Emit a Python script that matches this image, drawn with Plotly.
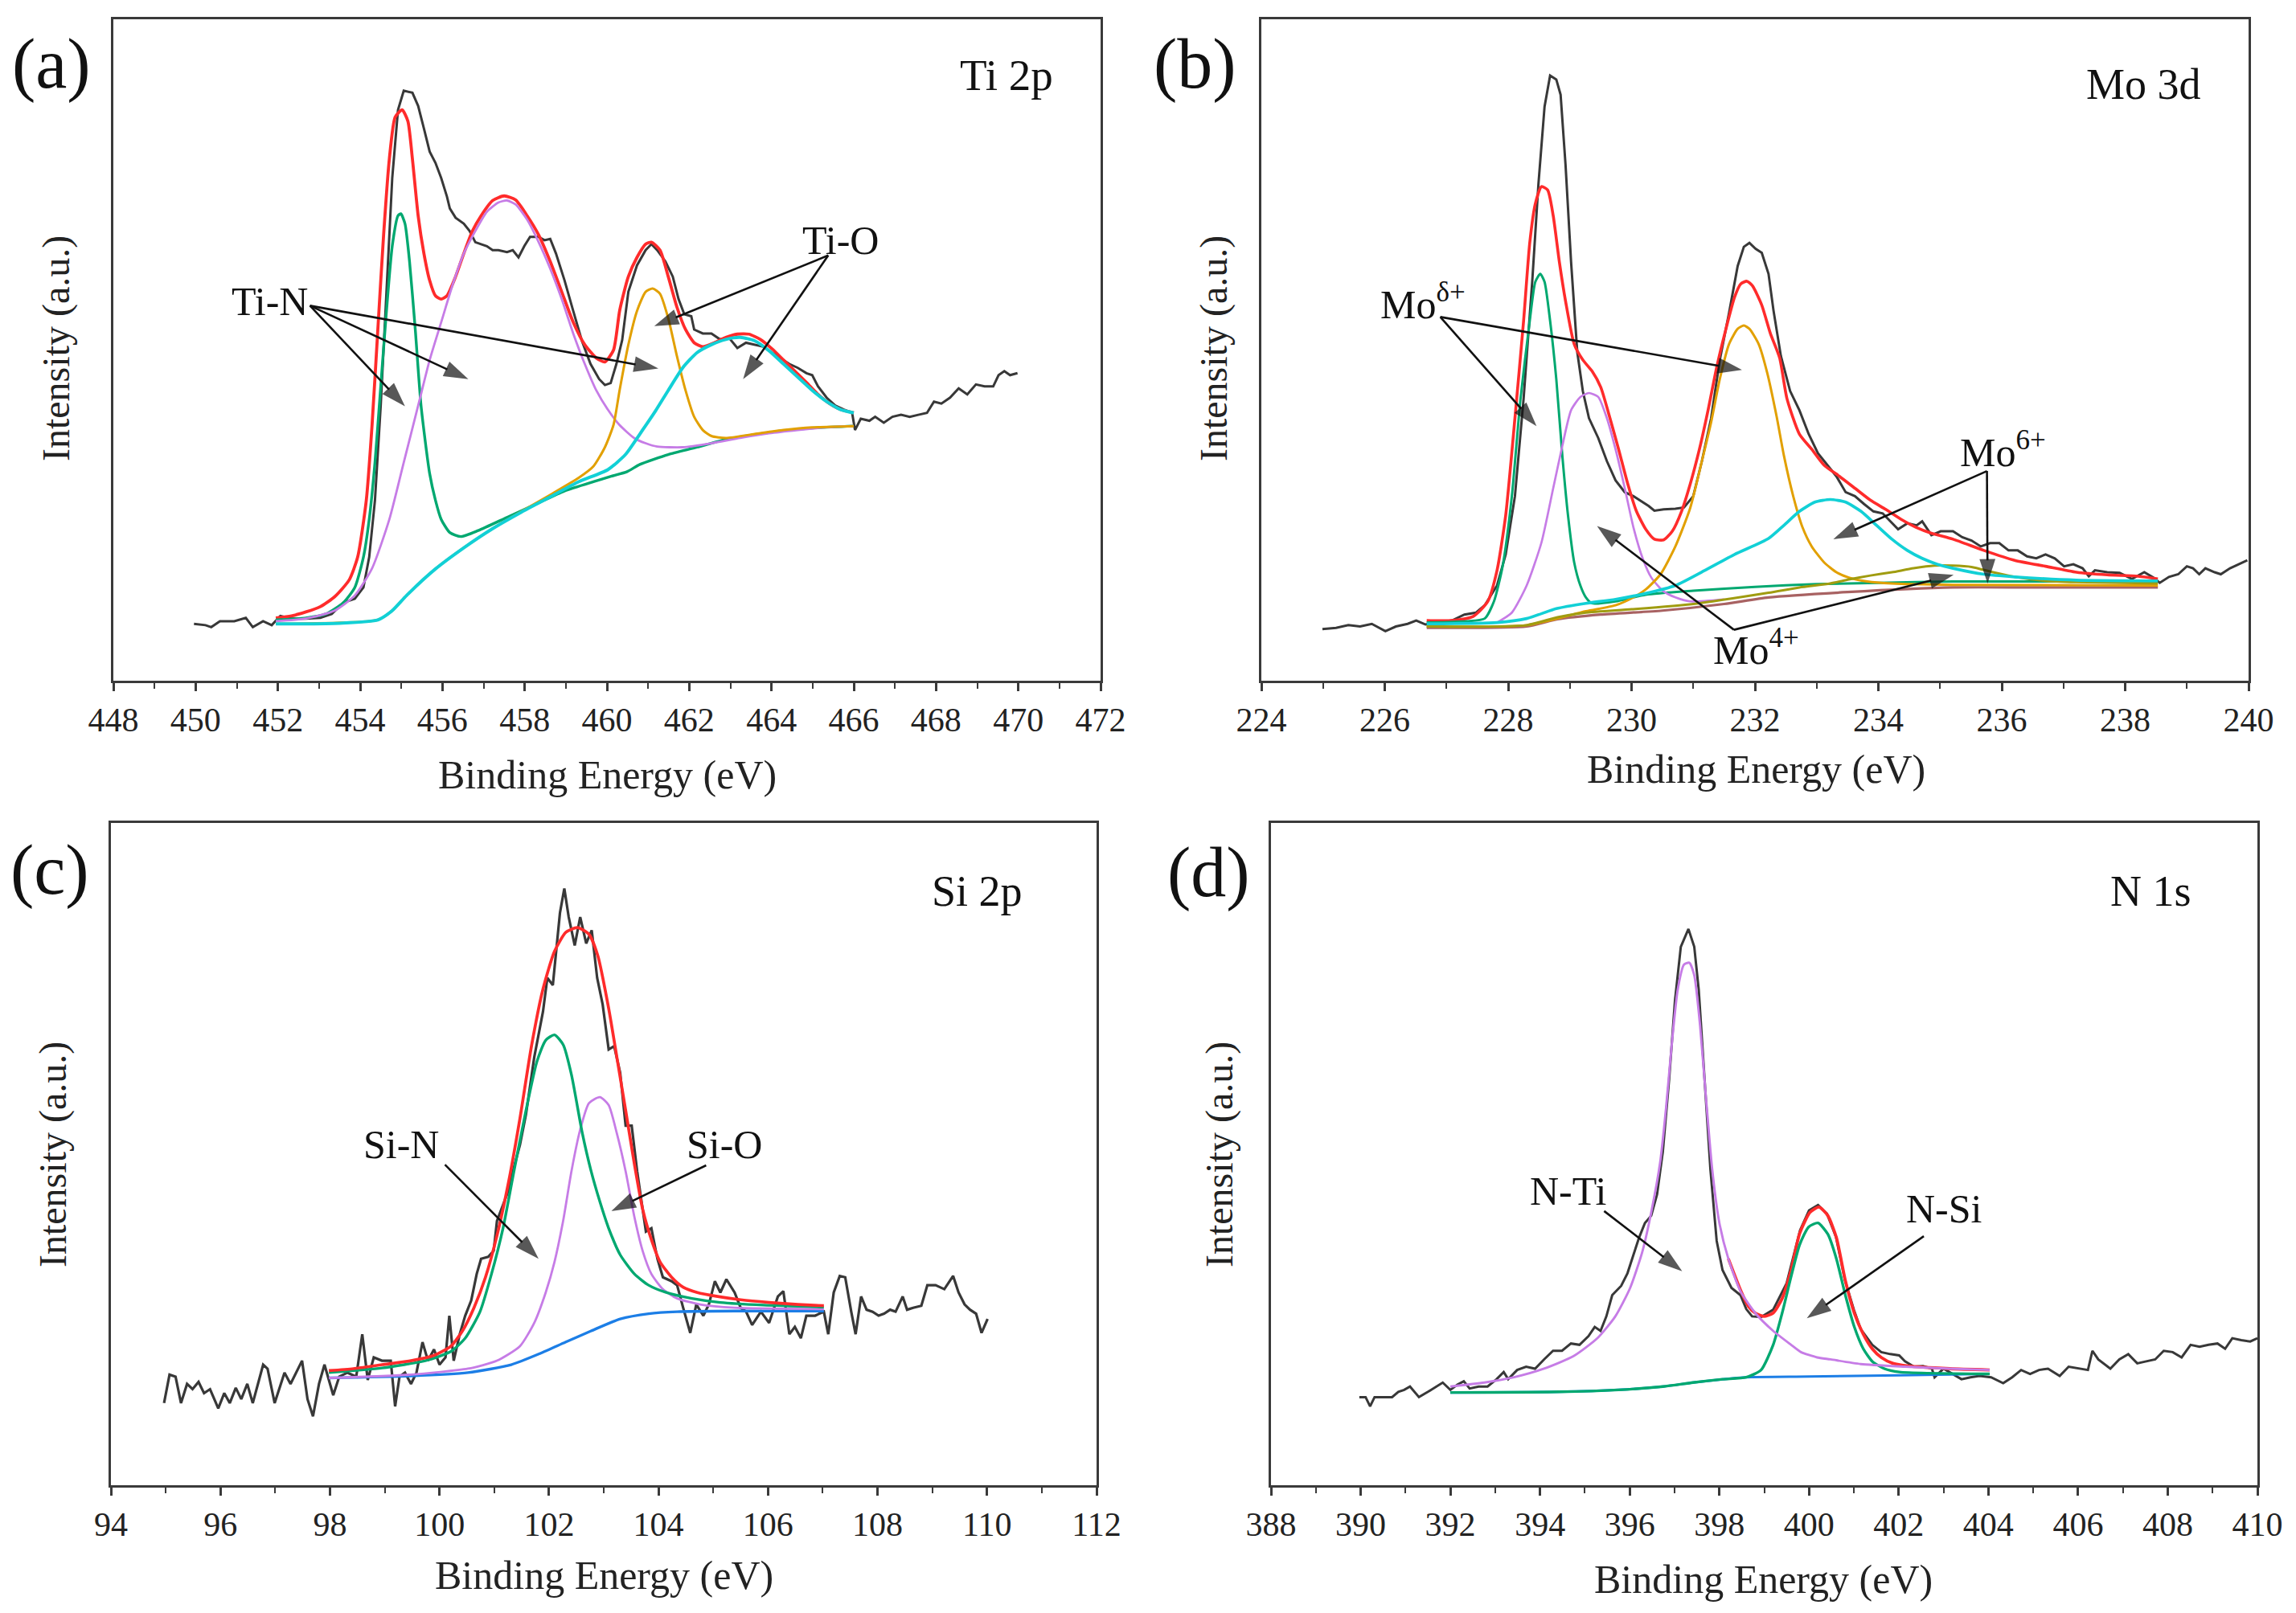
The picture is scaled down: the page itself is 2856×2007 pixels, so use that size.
import plotly.graph_objects as go

# ---------------- Panel (a) Ti 2p ----------------
a_raw_x = [449.96,450.24,450.38,450.59,450.94,451.22,451.39,451.64,451.85,452.06,452.33,452.68,453.03,453.31,453.59,453.87,454.08,454.22,454.36,454.50,454.64,454.78,454.92,455.06,455.27,455.41,455.55,455.69,455.83,455.97,456.11,456.18,456.32,456.52,456.66,456.80,456.94,457.08,457.22,457.36,457.57,457.71,457.85,457.99,458.13,458.34,458.48,458.62,458.76,458.97,459.18,459.39,459.60,459.81,459.95,460.09,460.23,460.37,460.52,460.73,460.94,461.08,461.22,461.42,461.60,461.74,461.88,462.05,462.12,462.33,462.54,462.75,462.96,463.17,463.38,463.59,463.80,464.01,464.22,464.43,464.64,464.85,464.99,465.13,465.34,465.55,465.76,465.96,466.03,466.17,466.38,466.52,466.73,466.94,467.15,467.36,467.57,467.78,467.95,468.13,468.34,468.55,468.76,468.97,469.18,469.39,469.52,469.66,469.80,469.98]
a_raw_y = [8.6,8.4,8.1,9.0,9.0,9.5,8.1,9.0,8.4,9.8,9.4,9.4,9.5,10.1,11.8,12.4,14.1,18.7,27.3,41.6,58.8,76.0,86.3,89.2,88.9,86.9,83.5,80.0,78.3,76.0,73.2,71.4,70.0,69.1,68.0,66.3,66.0,65.7,65.1,65.1,64.8,65.1,64.0,65.7,67.1,67.1,66.6,66.8,64.6,60.5,55.9,51.4,47.9,45.6,44.7,45.0,47.9,51.5,58.8,62.8,65.1,66.0,65.1,63.4,61.1,57.7,55.4,55.1,53.1,52.5,52.5,51.6,51.9,50.3,51.1,50.8,50.5,49.6,48.8,47.9,47.3,46.5,46.2,44.5,42.8,41.6,41.0,40.5,37.9,39.6,39.3,39.9,39.0,39.9,40.2,39.9,40.2,40.5,42.2,41.9,42.8,44.2,43.3,44.8,44.5,44.5,46.2,46.8,46.2,46.5]
a_env_x = [451.95,452.33,452.68,453.03,453.38,453.73,453.94,454.15,454.29,454.43,454.57,454.71,454.85,455.02,455.16,455.27,455.41,455.55,455.69,455.83,455.97,456.11,456.32,456.52,456.73,456.94,457.22,457.50,457.78,458.06,458.34,458.62,458.90,459.18,459.46,459.74,459.95,460.16,460.31,460.52,460.73,460.94,461.08,461.29,461.49,461.70,461.91,462.12,462.33,462.61,462.89,463.17,463.45,463.73,464.01,464.29,464.57,464.85,465.13,465.41,465.68,466.00]
a_env_y = [9.5,9.8,10.4,11.2,12.7,15.2,18.7,27.3,38.7,53.1,67.4,78.9,85.2,86.3,84.6,78.9,70.3,64.6,60.5,58.2,57.7,58.2,61.1,64.6,68.0,70.3,72.6,73.3,72.7,70.3,67.4,63.4,58.8,54.2,50.8,48.8,48.2,50.0,56.0,61.1,64.0,66.0,66.3,65.1,61.1,56.5,53.1,51.1,50.5,51.1,51.9,52.4,52.4,51.6,50.2,48.5,46.8,45.1,43.3,41.9,41.0,40.5]
a_tin1_x = [451.95,452.68,453.17,453.59,453.87,454.08,454.22,454.36,454.50,454.64,454.78,454.92,454.99,455.09,455.20,455.34,455.48,455.69,455.83,455.97,456.18,456.45,456.87,457.57,458.27,458.97,459.67,460.10,460.49,460.80,461.49,462.19,462.89,463.59,464.29,464.99,466.00]
a_tin1_y = [9.2,9.5,10.1,11.8,14.1,18.7,24.4,33.0,44.5,55.9,65.7,70.3,70.6,69.1,63.4,53.1,41.6,31.3,27.3,24.4,22.4,21.8,22.7,24.7,26.7,28.7,30.1,30.9,31.6,32.7,34.2,35.3,36.5,37.2,37.8,38.2,38.5]
a_tin2_x = [451.95,452.68,453.38,453.87,454.29,454.71,455.06,455.41,455.69,455.97,456.25,456.52,456.80,457.08,457.36,457.57,457.78,458.06,458.34,458.62,458.90,459.18,459.46,459.74,460.02,460.30,460.66,460.94,461.22,461.84,462.54,463.24,463.94,464.64,465.30,466.00]
a_tin2_y = [9.0,9.4,10.6,12.9,17.0,24.4,33.0,41.6,48.5,54.2,59.9,64.6,68.0,70.9,72.3,72.6,72.0,69.7,66.3,62.3,57.7,52.5,47.9,43.9,41.0,38.7,36.7,35.9,35.4,35.3,35.9,36.7,37.4,37.9,38.3,38.5]
a_tio1_x = [451.95,454.43,454.78,455.13,455.83,456.52,457.22,457.92,458.62,459.32,459.67,459.95,460.16,460.31,460.52,460.73,460.94,461.11,461.29,461.49,461.70,461.91,462.12,462.33,462.54,462.89,463.59,464.29,464.99,466.00]
a_tio1_y = [8.6,9.2,10.6,12.9,16.9,20.1,23.0,25.6,28.1,30.7,32.4,35.3,38.7,44.0,50.8,55.9,58.8,59.3,58.5,54.8,49.1,43.9,39.9,37.9,37.0,36.7,37.3,37.9,38.3,38.5]
a_tio2_x = [451.95,452.50,453.50,454.43,454.78,455.13,455.83,456.52,457.22,457.92,458.62,459.32,460.02,460.45,460.80,461.15,461.49,461.84,462.19,462.54,462.89,463.24,463.59,463.94,464.29,464.64,464.99,465.34,465.68,466.00]
a_tio2_y = [8.6,8.6,8.7,9.2,10.6,12.9,16.9,20.1,23.0,25.5,27.8,30.1,31.9,34.2,37.3,40.5,43.9,47.3,49.6,50.8,51.6,51.9,51.4,49.9,47.9,45.9,43.9,42.2,41.0,40.5]

# ---------------- Panel (b) Mo 3d ----------------
b_raw_x = [224.99,225.21,225.41,225.60,225.79,226.01,226.18,226.37,226.51,226.66,226.85,227.09,227.29,227.48,227.62,227.72,227.82,227.96,228.11,228.25,228.39,228.49,228.59,228.68,228.78,228.85,228.93,229.02,229.12,229.21,229.31,229.46,229.60,229.74,229.89,230.03,230.18,230.28,230.37,230.52,230.71,230.85,231.00,231.14,231.29,231.43,231.58,231.72,231.82,231.91,232.01,232.11,232.22,232.30,232.42,232.57,232.72,232.87,233.02,233.17,233.32,233.47,233.62,233.77,233.92,234.07,234.22,234.32,234.47,234.62,234.71,234.86,235.01,235.21,235.36,235.51,235.66,235.81,235.96,236.11,236.26,236.41,236.56,236.71,236.86,237.01,237.16,237.31,237.41,237.51,237.71,237.91,238.11,238.31,238.46,238.56,238.71,238.86,239.00,239.10,239.20,239.30,239.45,239.55,239.70,239.85,239.98]
b_raw_y = [7.8,8.0,8.4,8.2,8.6,7.5,8.2,8.6,9.1,8.5,8.8,9.1,10.0,10.3,11.4,12.9,14.4,19.1,27.9,42.6,60.3,75.0,86.8,91.5,90.9,88.6,78.0,63.3,49.7,43.8,39.7,36.7,33.2,30.3,28.5,27.9,27.0,26.4,25.7,25.9,26.0,26.2,27.9,33.2,39.7,48.5,55.6,62.7,65.6,66.2,65.3,64.7,61.5,56.0,49.1,43.8,40.9,37.3,34.4,32.6,30.9,28.5,27.9,26.7,25.6,25.3,23.8,22.9,23.8,23.5,24.1,22.0,22.6,22.6,21.7,21.2,20.3,20.8,20.8,19.7,19.7,18.8,18.5,19.1,18.5,17.3,17.6,17.0,15.8,16.7,16.4,16.3,15.4,16.4,15.6,14.8,15.7,16.1,17.3,17.0,16.1,17.0,16.4,16.1,17.0,17.6,18.2]
b_env_x = [226.68,227.09,227.43,227.67,227.82,227.96,228.11,228.25,228.35,228.44,228.54,228.64,228.73,228.83,228.93,229.07,229.21,229.36,229.50,229.65,229.79,229.94,230.08,230.23,230.37,230.52,230.66,230.81,230.95,231.10,231.24,231.38,231.53,231.67,231.77,231.87,231.96,232.11,232.25,232.40,232.52,232.72,232.92,233.12,233.37,233.62,233.87,234.12,234.37,234.61,234.86,235.21,235.71,236.21,236.71,237.21,237.71,238.21,238.53]
b_env_y = [9.1,9.1,9.7,12.0,16.7,25.0,39.7,54.4,66.2,72.1,74.7,74.2,70.3,63.3,57.4,50.9,48.5,46.8,44.4,39.7,35.0,29.7,25.6,22.9,21.4,21.3,22.6,25.6,29.7,35.0,40.9,47.4,53.2,58.0,60.0,60.4,59.7,56.8,52.5,48.8,42.6,37.3,35.0,32.6,30.9,29.1,27.3,25.9,24.4,23.2,22.3,21.4,19.7,18.2,17.3,16.4,16.0,15.8,15.4]
b_mod1_x = [226.68,227.33,227.62,227.77,227.91,228.06,228.20,228.35,228.44,228.52,228.59,228.68,228.78,228.88,228.97,229.07,229.17,229.26,229.36,229.74,230.23,231.00,232.00,233.00,234.00,235.21,236.50,238.53]
b_mod1_y = [8.8,9.0,9.4,12.0,17.3,27.9,42.6,54.4,60.3,61.5,60.3,54.4,45.6,33.8,25.0,17.9,14.4,12.6,11.7,12.0,13.0,13.6,14.2,14.6,14.8,15.0,15.0,15.0]
b_mo4a_x = [227.82,228.06,228.30,228.54,228.73,228.88,229.02,229.17,229.31,229.46,229.60,229.74,229.89,230.03,230.18,230.32,230.52,230.71,230.95,231.50]
b_mo4a_y = [8.8,10.3,14.4,20.9,29.1,35.6,40.9,42.9,43.5,42.9,39.7,35.0,29.1,23.2,18.5,15.6,13.5,12.6,12.0,12.3]
b_mod2_x = [226.68,228.30,229.26,229.74,230.03,230.23,230.47,230.71,230.95,231.14,231.29,231.43,231.58,231.72,231.82,231.91,232.06,232.20,232.35,232.47,232.62,232.77,232.92,233.12,233.32,233.52,233.82,234.22,235.21,238.53]
b_mod2_y = [8.2,8.4,10.5,11.4,12.6,13.8,16.1,20.3,26.1,33.2,39.1,45.6,50.9,53.2,53.7,53.2,50.9,46.5,40.0,34.0,27.9,23.2,20.3,17.9,16.4,15.6,15.0,14.7,14.5,14.4]
b_mo6a_x = [226.68,227.82,228.30,228.78,229.26,229.74,230.23,230.71,231.19,231.67,232.22,232.47,232.72,232.97,233.22,233.47,233.72,233.97,234.22,234.47,234.71,234.96,235.21,235.71,236.21,237.21,238.53]
b_mo6a_y = [8.6,8.8,9.4,10.9,11.7,12.3,13.2,14.4,16.7,19.1,21.5,23.5,25.6,27.0,27.4,27.0,25.6,23.5,21.4,19.7,18.5,17.6,17.0,16.1,15.7,15.2,15.1]
b_mo6b_x = [226.68,228.30,228.80,229.26,230.00,231.00,232.22,232.72,233.22,233.52,233.87,234.22,234.57,234.91,235.21,235.51,235.86,236.21,236.71,237.21,238.53]
b_mo6b_y = [8.2,8.4,9.6,10.3,10.8,11.6,13.3,14.1,14.7,15.3,15.9,16.4,17.0,17.4,17.4,17.2,16.4,15.7,15.1,14.9,14.7]
b_bg_x = [226.68,228.30,228.80,229.50,230.50,231.50,232.22,233.50,235.21,236.50,238.53]
b_bg_y = [8.0,8.2,9.3,10.0,10.6,11.6,12.6,13.4,14.1,14.1,14.1]

# ---------------- Panel (c) Si 2p ----------------
c_raw_x = [94.97,95.07,95.18,95.28,95.39,95.49,95.60,95.70,95.81,95.96,96.07,96.17,96.28,96.38,96.49,96.59,96.78,96.86,96.99,97.17,97.28,97.49,97.59,97.69,97.80,97.90,98.06,98.17,98.32,98.48,98.59,98.69,98.80,98.95,99.11,99.19,99.27,99.37,99.48,99.58,99.69,99.79,99.90,100.00,100.11,100.18,100.26,100.37,100.47,100.58,100.68,100.76,100.89,100.99,101.05,101.16,101.26,101.36,101.47,101.58,101.73,101.89,101.97,102.07,102.13,102.20,102.28,102.36,102.47,102.57,102.68,102.78,102.88,102.98,103.09,103.19,103.30,103.40,103.51,103.61,103.77,103.87,103.98,104.08,104.24,104.34,104.45,104.58,104.69,104.82,104.92,105.03,105.13,105.24,105.39,105.50,105.60,105.71,105.87,106.02,106.18,106.28,106.39,106.49,106.60,106.70,106.86,107.02,107.10,107.20,107.31,107.41,107.52,107.60,107.70,107.80,107.91,108.02,108.12,108.23,108.33,108.46,108.54,108.65,108.80,108.91,109.06,109.22,109.38,109.48,109.59,109.69,109.80,109.90,110.01]
c_raw_y = [12.4,16.7,16.4,12.4,15.3,14.5,15.6,13.9,14.5,11.6,13.9,12.4,14.7,13.0,15.3,12.4,18.2,17.6,12.4,17.0,15.3,18.8,13.0,10.4,15.3,18.2,13.6,16.4,17.0,16.4,22.8,15.9,19.3,18.8,18.8,11.9,16.4,17.0,15.3,17.0,21.6,18.8,20.5,18.2,19.3,25.6,18.8,22.8,25.6,27.9,31.9,34.2,34.5,35.4,39.9,42.2,44.5,48.0,51.4,56.0,64.6,71.5,76.6,75.5,80.6,86.4,90.1,85.8,81.5,85.8,81.8,83.8,76.6,72.6,65.8,66.3,62.3,54.3,54.3,47.4,38.3,38.8,34.2,31.4,30.8,30.2,26.8,23.0,27.3,25.6,27.3,30.8,29.1,31.1,29.1,26.8,26.2,24.2,26.2,24.5,28.5,29.3,22.8,23.9,22.2,25.6,25.6,26.2,22.8,29.1,31.6,31.4,26.2,22.8,28.5,26.5,26.2,25.6,25.9,26.5,26.2,28.5,26.5,26.8,27.1,30.2,30.2,29.6,31.6,29.1,27.3,26.5,25.9,23.0,25.1]
c_env_x = [97.98,98.43,98.95,99.48,99.90,100.21,100.42,100.63,100.84,101.05,101.26,101.47,101.68,101.89,102.10,102.31,102.52,102.73,102.89,103.09,103.24,103.40,103.56,103.71,103.87,104.03,104.24,104.45,104.71,105.08,105.50,106.02,106.55,107.02]
c_env_y = [17.3,17.6,18.2,18.8,19.6,21.0,23.3,26.8,31.4,37.7,45.7,55.4,66.3,74.9,80.6,83.5,84.2,83.2,80.0,72.0,64.6,56.6,48.5,41.7,37.1,33.7,31.4,29.9,29.1,28.5,28.0,27.6,27.3,27.1]
c_sin_x = [97.98,98.95,99.74,100.21,100.47,100.74,100.95,101.16,101.36,101.58,101.78,101.94,102.10,102.26,102.41,102.61,102.77,102.93,103.09,103.30,103.56,103.82,104.14,104.61,105.13,105.92,107.02]
c_sin_y = [17.0,17.7,18.8,20.2,22.2,26.2,31.9,38.8,47.4,56.6,64.0,67.2,68.0,66.5,62.0,53.1,47.4,42.8,38.8,34.8,31.9,30.2,29.1,28.2,27.6,27.2,26.9]
c_sio_x = [97.98,99.48,100.52,101.05,101.47,101.73,101.94,102.10,102.26,102.41,102.57,102.73,102.93,103.09,103.24,103.40,103.56,103.71,103.87,104.08,104.34,104.76,105.39,107.02]
c_sio_y = [16.2,16.7,17.6,18.8,21.0,24.5,29.1,33.7,40.0,47.4,53.7,57.7,58.6,57.4,53.1,47.4,40.5,35.4,31.9,29.6,28.2,27.3,26.8,26.6]
c_bg_x = [97.98,99.48,100.52,101.31,101.84,102.30,102.77,103.30,103.82,104.34,105.39,107.02]
c_bg_y = [16.2,16.5,17.0,18.2,19.9,21.6,23.3,25.1,25.9,26.2,26.3,26.3]

# ---------------- Panel (d) N 1s ----------------
d_raw_x = [389.97,390.11,390.21,390.31,390.50,390.70,390.84,390.97,391.10,391.30,391.50,391.70,391.83,392.00,392.16,392.30,392.43,392.63,392.83,393.03,393.19,393.29,393.49,393.69,393.89,394.09,394.29,394.49,394.69,394.88,395.08,395.22,395.35,395.48,395.61,395.81,395.95,396.08,396.21,396.34,396.48,396.61,396.74,396.88,397.01,397.14,397.31,397.44,397.54,397.67,397.80,397.94,398.07,398.27,398.47,398.60,398.73,398.93,399.20,399.50,399.80,400.00,400.20,400.40,400.60,400.80,401.00,401.15,401.41,401.61,401.81,402.01,402.14,402.34,402.54,402.74,402.80,403.00,403.20,403.40,403.60,403.80,404.06,404.33,404.53,404.73,404.93,405.13,405.33,405.59,405.79,406.06,406.22,406.32,406.45,406.72,406.92,407.12,407.32,407.52,407.72,407.91,408.11,408.31,408.51,408.71,408.91,409.11,409.28,409.44,409.64,409.84,410.00]
d_raw_y = [13.3,13.3,11.9,13.3,13.3,13.3,14.1,14.4,14.9,13.3,14.1,14.9,15.5,14.4,15.2,15.7,14.6,14.9,14.9,16.0,17.1,16.0,17.4,17.9,17.6,19.0,20.3,20.3,21.4,21.2,22.5,23.9,23.3,25.5,28.7,30.1,32.0,34.7,37.4,39.6,40.7,43.9,50.4,61.3,73.2,81.3,84.0,81.3,74.8,61.3,47.7,36.9,32.5,29.8,28.7,26.6,25.5,25.4,26.5,30.5,38.5,41.5,42.3,41.0,37.5,31.0,26.5,23.6,21.2,20.1,19.8,19.6,18.7,17.9,18.0,17.6,16.3,17.6,16.8,16.0,16.3,16.5,16.3,15.4,16.3,17.4,16.8,17.4,17.6,16.5,17.9,17.6,17.4,20.3,19.0,17.6,19.0,19.8,18.4,18.7,19.0,20.3,20.1,19.3,21.2,20.9,21.2,21.4,20.6,22.2,21.9,21.7,22.2]
d_env_x = [398.20,398.47,398.65,398.80,398.99,399.20,399.40,399.60,399.79,400.02,400.22,400.42,400.61,400.81,401.01,401.21,401.41,401.61,401.87,402.21,403.14,404.03]
d_env_y = [34.2,29.5,27.0,26.0,25.5,26.0,28.2,32.5,38.0,41.2,42.0,40.7,37.4,30.9,26.0,22.8,20.6,19.3,18.4,18.0,17.6,17.4]
d_nsi_x = [392.00,394.42,395.75,396.74,397.41,398.07,398.60,398.93,399.20,399.40,399.60,399.79,399.99,400.20,400.42,400.61,400.81,401.01,401.21,401.41,401.68,402.01,404.03]
d_nsi_y = [14.0,14.1,14.4,14.9,15.5,16.0,16.3,17.4,21.2,26.0,31.5,36.3,39.0,39.6,37.9,34.2,28.7,23.9,20.6,18.7,17.6,17.1,16.8]
d_nti_x = [392.00,392.76,393.42,394.09,394.75,395.28,395.68,396.01,396.28,396.48,396.68,396.81,396.94,397.07,397.21,397.33,397.44,397.57,397.70,397.84,398.00,398.20,398.47,398.80,399.20,399.60,399.82,400.18,400.48,401.15,402.14,403.14,404.03]
d_nti_y = [14.9,15.5,16.3,17.6,19.5,22.2,25.5,29.8,35.2,41.2,48.8,56.9,66.7,74.8,78.6,78.9,77.0,69.4,58.6,47.7,39.6,34.2,29.3,26.0,23.3,21.2,20.1,19.3,19.0,18.3,17.9,17.6,17.4]
d_bg_x = [392.00,394.42,395.75,396.74,397.41,398.07,398.60,400.00,402.00,404.03]
d_bg_y = [14.0,14.1,14.4,14.9,15.5,16.0,16.3,16.4,16.6,16.8]

# axis ranges / labels
x_ranges = [[448, 472], [224, 240], [94, 112], [388, 410]]
panel_labels = ["(a)", "(b)", "(c)", "(d)"]
element_labels = ["Ti 2p", "Mo 3d", "Si 2p", "N 1s"]

W, H = 2856, 2007
FONT = "Liberation Serif"
BLACK = "#383838"
RED = "#ff2b2b"
GREEN = "#00a870"
PURPLE = "#c67ce6"
ORANGE = "#e2a000"
CYAN = "#12d0d6"
OLIVE = "#a09c10"
BROWN = "#a86262"
BLUE = "#1c7ee6"

def px_dom(x0, x1):
    return [x0 / W, x1 / W]

def py_dom(top, bottom):
    return [1 - bottom / H, 1 - top / H]

domains = [
    (px_dom(141, 1369), py_dom(24, 847)),
    (px_dom(1569, 2797), py_dom(24, 847)),
    (px_dom(138, 1364), py_dom(1024, 1848)),
    (px_dom(1581, 2808), py_dom(1024, 1848)),
]

fig = go.Figure()

def axes(panel):
    sfx = "" if panel == 0 else str(panel + 1)
    return "x" + sfx, "y" + sfx

def add(panel, xs, ys, color, width):
    xa, ya = axes(panel)
    fig.add_trace(go.Scatter(x=xs, y=ys, mode="lines",
                             line=dict(color=color, width=width, shape="spline", smoothing=0.6),
                             xaxis=xa, yaxis=ya, showlegend=False, hoverinfo="skip"))

def add_raw(panel, xs, ys, width=3.0):
    xa, ya = axes(panel)
    fig.add_trace(go.Scatter(x=xs, y=ys, mode="lines",
                             line=dict(color=BLACK, width=width),
                             xaxis=xa, yaxis=ya, showlegend=False, hoverinfo="skip"))

# panel a
add_raw(0, a_raw_x, a_raw_y)
add(0, a_env_x, a_env_y, RED, 3.8)
add(0, a_tin1_x, a_tin1_y, GREEN, 3.4)
add(0, a_tin2_x, a_tin2_y, PURPLE, 2.8)
add(0, a_tio1_x, a_tio1_y, ORANGE, 3.0)
add(0, a_tio2_x, a_tio2_y, CYAN, 4.0)
# panel b
add_raw(1, b_raw_x, b_raw_y)
add(1, b_env_x, b_env_y, RED, 3.6)
add(1, b_bg_x, b_bg_y, BROWN, 3.2)
add(1, b_mod1_x, b_mod1_y, GREEN, 3.0)
add(1, b_mo4a_x, b_mo4a_y, PURPLE, 2.7)
add(1, b_mod2_x, b_mod2_y, ORANGE, 3.0)
add(1, b_mo6b_x, b_mo6b_y, OLIVE, 3.0)
add(1, b_mo6a_x, b_mo6a_y, CYAN, 3.7)
# panel c
add_raw(2, c_raw_x, c_raw_y, 3.2)
add(2, c_bg_x, c_bg_y, BLUE, 3.4)
add(2, c_sio_x, c_sio_y, PURPLE, 2.8)
add(2, c_sin_x, c_sin_y, GREEN, 3.4)
add(2, c_env_x, c_env_y, RED, 3.7)
# panel d
add_raw(3, d_raw_x, d_raw_y)
add(3, d_env_x, d_env_y, RED, 3.8)
add(3, d_bg_x, d_bg_y, BLUE, 3.0)
add(3, d_nsi_x, d_nsi_y, GREEN, 3.4)
add(3, d_nti_x, d_nti_y, PURPLE, 2.9)

# arrows drawn as line traces ending in an arrow-head marker
def arrow(panel, tail, head):
    xa, ya = axes(panel)
    fig.add_trace(go.Scatter(x=[tail[0], head[0]], y=[tail[1], head[1]], mode="lines+markers",
                             line=dict(color="#111111", width=2.6),
                             marker=dict(symbol="arrow", size=[0, 32], angleref="previous",
                                         color="#111111", line=dict(width=0)),
                             xaxis=xa, yaxis=ya, showlegend=False, hoverinfo="skip"))

layout = dict(width=W, height=H, autosize=False,
              margin=dict(l=0, r=0, t=0, b=0, autoexpand=False),
              paper_bgcolor="white", plot_bgcolor="white",
              font=dict(family=FONT, color="#222222"))
for i in range(4):
    sfx = "" if i == 0 else str(i + 1)
    xd, yd = domains[i]
    layout["xaxis" + sfx] = dict(
        domain=xd, anchor="y" + sfx, range=x_ranges[i], automargin=False,
        showline=True, mirror=True, linecolor="#3a3a3a", linewidth=3,
        showgrid=False, zeroline=False,
        ticks="outside", ticklen=10, tickwidth=2.5, tickcolor="#3a3a3a",
        dtick=2, tick0=x_ranges[i][0],
        minor=dict(ticks="outside", ticklen=7, tickwidth=2.2, tickcolor="#3a3a3a", dtick=1, showgrid=False),
        tickfont=dict(family=FONT, size=42, color="#222222"),
        fixedrange=True)
    layout["yaxis" + sfx] = dict(
        domain=yd, anchor="x" + sfx, range=[0, 100], automargin=False,
        showline=True, mirror=True, linecolor="#3a3a3a", linewidth=3,
        showgrid=False, zeroline=False, showticklabels=False, ticks="",
        fixedrange=True)
fig.update_layout(**layout)

ann = []
xt_pos = [(755, 964), (2184, 957), (751, 1960), (2193, 1965)]
yt_pos = [(70, 434), (1510, 434), (66, 1437), (1517, 1437)]
for (xp, yp) in xt_pos:
    ann.append(dict(x=xp / W, y=1 - yp / H, xref="paper", yref="paper", text="Binding Energy (eV)",
                    showarrow=False, xanchor="center", yanchor="middle",
                    font=dict(family=FONT, size=50, color="#222222")))
for (xp, yp) in yt_pos:
    ann.append(dict(x=xp / W, y=1 - yp / H, xref="paper", yref="paper", text="Intensity (a.u.)",
                    showarrow=False, xanchor="center", yanchor="middle", textangle=-90,
                    font=dict(family=FONT, size=48, color="#222222")))
pl_pos = [(64, 80), (1486, 80), (62, 1082), (1503, 1085)]
for lab, (xp, yp) in zip(panel_labels, pl_pos):
    ann.append(dict(x=xp / W, y=1 - yp / H, xref="paper", yref="paper", text=lab,
                    showarrow=False, xanchor="center", yanchor="middle",
                    font=dict(family=FONT, size=88, color="#111111")))

def txt(panel, x, y, t, size=50, xanchor="center"):
    xa, ya = axes(panel)
    ann.append(dict(x=x, y=y, xref=xa, yref=ya, text=t, showarrow=False,
                    xanchor=xanchor, yanchor="middle", font=dict(family=FONT, size=size, color="#111111")))

txt(0, 469.72, 91.5, element_labels[0], 55)
txt(1, 238.3, 90.1, element_labels[1], 54)
txt(2, 109.82, 89.7, element_labels[2], 54)
txt(3, 407.63, 89.7, element_labels[3], 54)

# panel a
txt(0, 451.8, 57.3, "Ti-N")
for h in [(455.09, 41.5), (456.63, 45.6), (461.25, 47.2)]:
    arrow(0, (452.78, 56.7), h)
txt(0, 465.68, 66.6, "Ti-O")
for h in [(461.15, 53.6), (463.31, 45.6)]:
    arrow(0, (465.38, 64.3), h)
# panel b
txt(1, 225.9, 57.3, "Mo<sup>δ+</sup>", 50, "left")
for h in [(228.46, 38.5), (231.79, 47.0)]:
    arrow(1, (226.9, 55.0), h)
txt(1, 235.29, 34.9, "Mo<sup>6+</sup>", 50, "left")
for h in [(233.27, 21.4), (235.77, 14.7)]:
    arrow(1, (235.76, 31.7), h)
txt(1, 231.3, 5.1, "Mo<sup>4+</sup>", 50, "left")
for h in [(229.44, 23.4), (235.22, 16.0)]:
    arrow(1, (231.66, 7.7), h)
# panel c
txt(2, 99.3, 51.4, "Si-N")
arrow(2, (100.1, 48.4), (101.81, 34.2))
txt(2, 105.2, 51.4, "Si-O")
arrow(2, (104.87, 48.3), (103.14, 41.4))
# panel d
txt(3, 394.63, 44.4, "N-Ti")
arrow(3, (395.43, 41.4), (397.17, 32.3))
txt(3, 403.0, 41.8, "N-Si")
arrow(3, (402.56, 37.6), (399.95, 25.2))

fig.update_layout(annotations=ann)
fig.write_html("out.html")
